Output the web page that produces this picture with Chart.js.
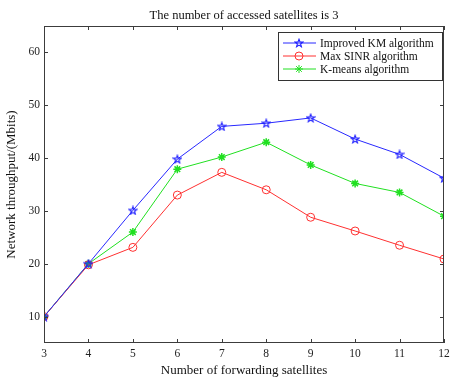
<!DOCTYPE html>
<html>
<head>
<meta charset="utf-8">
<script src="https://cdn.jsdelivr.net/npm/chart.js@4.4.0/dist/chart.umd.min.js"></script>
<style>
  body { margin: 0; background: #fff; }
  #wrap { width: 450px; height: 378px; }
</style>
</head>
<body>
<div id="wrap"><canvas id="myChart" width="450" height="378"></canvas></div>
<script>
const ctx = document.getElementById('myChart');

// data
const satellites = [3, 4, 5, 6, 7, 8, 9, 10, 11, 12];
const improvedKM = [10, 20, 30.1, 39.8, 46.0, 46.6, 47.6, 43.6, 40.7, 36.2];
const maxSINR = [10, 19.8, 23.1, 33.0, 37.3, 34.0, 28.8, 26.2, 23.5, 20.9];
const kMeans = [10, 20, 26.0, 37.9, 40.2, 43.0, 38.7, 35.2, 33.5, 29.0];
const yTicks = [10, 20, 30, 40, 50, 60];

const serif = '"Liberation Serif", "DejaVu Serif", serif';
const axisColor = '#3c3c3c';

// pentagram marker like MATLAB 'p'
function pentagram(color) {
  const c = document.createElement('canvas');
  c.width = 10; c.height = 10;
  const g = c.getContext('2d');
  g.strokeStyle = color;
  g.lineWidth = 1.1;
  g.beginPath();
  for (let i = 0; i < 10; i++) {
    const r = i % 2 === 0 ? 4.1 : 1.7;
    const a = -Math.PI / 2 + i * Math.PI / 5;
    const x = 5 + r * Math.cos(a), y = 5.4 + r * Math.sin(a);
    if (i === 0) g.moveTo(x, y); else g.lineTo(x, y);
  }
  g.closePath();
  g.stroke();
  return c;
}
const starBlue = pentagram('#1a1aff');

function toPoints(arr) {
  return arr.map((v, i) => ({ x: satellites[i], y: v }));
}

const series = [
  { label: 'Improved KM algorithm', data: improvedKM, color: '#2828ff', style: starBlue, radius: 5 },
  { label: 'Max SINR algorithm', data: maxSINR, color: '#ff3030', style: 'circle', radius: 4 },
  { label: 'K-means algorithm', data: kMeans, color: '#20e020', style: 'star', radius: 4 }
];

const framePlugin = {
  id: 'frame',
  afterDraw(chart) {
    const g = chart.ctx;
    const a = chart.chartArea;
    const xs = chart.scales.x, ys = chart.scales.y;
    g.save();
    // title
    g.fillStyle = '#111';
    g.font = '12.5px ' + serif;
    g.textAlign = 'center';
    g.textBaseline = 'alphabetic';
    g.fillText('The number of accessed satellites is 3', (a.left + a.right) / 2, 19);
    // box
    g.strokeStyle = axisColor;
    g.lineWidth = 1;
    g.strokeRect(a.left + 0.5, a.top + 0.5, a.right - a.left - 1, a.bottom - a.top - 1);
    // inward ticks on all sides
    g.beginPath();
    satellites.forEach(v => {
      const px = Math.round(xs.getPixelForValue(v)) + 0.5;
      g.moveTo(px, a.bottom); g.lineTo(px, a.bottom - 4);
      g.moveTo(px, a.top); g.lineTo(px, a.top + 4);
    });
    yTicks.forEach(v => {
      const py = Math.round(ys.getPixelForValue(v)) + 0.5;
      g.moveTo(a.left, py); g.lineTo(a.left + 4, py);
      g.moveTo(a.right, py); g.lineTo(a.right - 4, py);
    });
    g.stroke();
    // legend
    const lx = 278, ly = 32, lw = 164, lh = 48;
    g.fillStyle = '#fff';
    g.fillRect(lx, ly, lw, lh);
    g.strokeStyle = '#333';
    g.strokeRect(lx + 0.5, ly + 0.5, lw, lh);
    g.font = '11.5px ' + serif;
    g.textAlign = 'left';
    g.textBaseline = 'middle';
    series.forEach((s, i) => {
      const y = ly + 11 + i * 13;
      g.strokeStyle = s.color;
      g.fillStyle = s.style === 'star' ? s.color : 'rgba(0,0,0,0)';
      g.lineWidth = 1;
      g.beginPath();
      g.moveTo(lx + 5, y); g.lineTo(lx + 38, y);
      g.stroke();
      Chart.helpers.drawPoint(g, { pointStyle: s.style, radius: s.radius, borderWidth: 1 }, lx + 21, y);
      g.fillStyle = '#111';
      g.fillText(s.label, lx + 42, y + 1);
    });
    g.restore();
  }
};

new Chart(ctx, {
  type: 'line',
  data: {
    datasets: series.map(s => ({
      label: s.label,
      data: toPoints(s.data),
      borderColor: s.color,
      backgroundColor: s.style === 'star' ? s.color : 'rgba(0,0,0,0)',
      pointStyle: s.style,
      pointRadius: s.radius,
      pointBorderColor: s.color,
      pointBorderWidth: s.style === 'star' ? 1.5 : 1,
      borderWidth: 1,
      tension: 0
    }))
  },
  options: {
    responsive: false,
    animation: false,
    layout: { padding: { top: 26, right: 0, left: 4, bottom: 0 } },
    plugins: {
      legend: { display: false },
      title: { display: false },
      tooltip: { enabled: false }
    },
    scales: {
      x: {
        type: 'linear',
        min: 3,
        max: 12,
        afterFit: s => { s.height = 35; s.paddingRight = 2; s.paddingLeft = 0; },
        ticks: { stepSize: 1, color: '#222', font: { family: serif, size: 11.5 }, padding: 4 },
        grid: { display: false, drawTicks: false },
        border: { display: false },
        title: {
          display: true,
          text: 'Number of forwarding satellites',
          color: '#111',
          font: { family: serif, size: 13 },
          padding: { top: 0, bottom: 0 }
        }
      },
      y: {
        min: 5,
        max: 65,
        afterFit: s => { s.width = 40; },
        afterBuildTicks: s => { s.ticks = yTicks.map(v => ({ value: v })); },
        ticks: { color: '#222', font: { family: serif, size: 11.5 }, padding: 4 },
        grid: { display: false, drawTicks: false },
        border: { display: false },
        title: {
          display: true,
          text: 'Network throughput/(Mbits)',
          color: '#111',
          font: { family: serif, size: 13 },
          padding: { top: 0, bottom: 2 }
        }
      }
    }
  },
  plugins: [framePlugin]
});
</script>
</body>
</html>
